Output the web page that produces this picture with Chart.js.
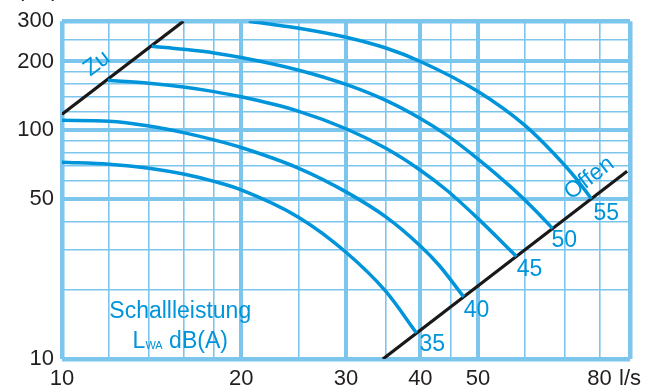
<!DOCTYPE html>
<html>
<head>
<meta charset="utf-8">
<script src="https://cdn.jsdelivr.net/npm/chart.js@4.4.1/dist/chart.umd.min.js"></script>
<style>
  html, body { margin: 0; padding: 0; background: #fff; overflow: hidden; }
</style>
</head>
<body>
<canvas id="c" width="662" height="390"></canvas>
<script>
// Volume flow (l/s) and static pressure (Pa) along each sound power curve L_WA
const q35 = [10, 12, 14, 16, 18, 20, 25, 30, 35, 39.4];
const p35 = [72.5, 71.1, 68.3, 64.4, 59.8, 54.9, 41.6, 29.3, 19.75, 13.0];
const q40 = [10, 12, 14, 16, 18, 20, 25, 30, 35, 40, 43, 47.3];
const p40 = [110.6, 109.6, 104.4, 97.7, 90.8, 84.1, 68.2, 53.8, 41.8, 31.2, 25.7, 18.7];
const q45 = [11.95, 14, 16, 18, 20, 25, 30, 35, 40, 44.3, 50, 58];
const p45 = [165.4, 160.6, 154.6, 147.6, 140.1, 121.1, 101.6, 83.4, 66.9, 54.7, 41.1, 28.1];
const q50 = [14.15, 16, 18, 20, 25, 30, 35, 40, 44.3, 50, 57, 62.6, 66.7];
const p50 = [233, 226, 218, 208.1, 183.2, 158.8, 135.2, 112.7, 95.3, 74.9, 56, 44.3, 37.2];
const q55 = [20.6, 25, 30, 35, 40, 50, 60, 66.7, 73, 77.5];
const p55 = [300, 279.5, 255.3, 229, 200, 147.7, 104.8, 80.2, 61.7, 50.2];

// Damper limits: fully closed ("Zu") and fully open ("Offen")
const qZu = [10, 16];
const pZu = [117.5, 300];
const qOffen = [34.6, 89];
const pOffen = [10, 66.2];

// Curve names and where they are written
const levelNames = ['35', '40', '45', '50', '55'];
const levelLabelQ = [41.9, 49.7, 61.0, 69.8, 82.1];
const levelLabelP = [11.6, 16.2, 24.7, 32.8, 43.4];

// Grid and tick values
const xGrid = [10, 12, 14, 16, 18, 20, 25, 30, 35, 40, 45, 50, 60, 70, 80, 90];
const xMajor = [20, 30, 40, 50];
const xEdge = [10, 90];
const xTickValues = [10, 20, 30, 40, 50, 80, 90];
const xTickText = ['10', '20', '30', '40', '50', '80', 'l/s'];
const yGrid = [10, 20, 30, 40, 50, 60, 70, 80, 90, 100, 120, 140, 160, 180, 200, 250, 300];
const yMajor = [50, 100, 200];
const yEdge = [10, 300];
const yTickValues = [10, 50, 100, 200, 300];
const yTickText = ['10', '50', '100', '200', '300'];

const GRID = '#7cc5ed';
const CURVE = '#0095da';
const LINE = '#1b1918';
const TEXT = '#231f20';
const FONT = "'Liberation Sans', Arial, sans-serif";

const has = (arr, v) => arr.some(a => Math.abs(a - v) < 1e-6);
const pts = (qs, ps) => qs.map((q, i) => ({ x: q, y: ps[i] }));

function gridWidth(edge, major) {
  return ctx => {
    const v = ctx.tick ? ctx.tick.value : NaN;
    if (has(edge, v)) return 4.5;
    if (has(major, v)) return 4;
    return 1.6;
  };
}

const curveSets = [[q35, p35], [q40, p40], [q45, p45], [q50, p50], [q55, p55]].map(([q, p], i) => ({
  label: 'L_WA ' + levelNames[i],
  data: pts(q, p),
  borderColor: CURVE,
  borderWidth: 3.5,
  pointRadius: 0,
  cubicInterpolationMode: 'monotone',
  fill: false
}));

const limitSets = [[qZu, pZu, 'Zu'], [qOffen, pOffen, 'Offen']].map(([q, p, name]) => ({
  label: name,
  data: pts(q, p),
  borderColor: LINE,
  borderWidth: 3.2,
  pointRadius: 0,
  tension: 0,
  fill: false
}));

// Text drawn in data space: curve names, damper names, legend note, axis title
const annotations = {
  id: 'annotations',
  afterDatasetsDraw(chart) {
    const { ctx, scales: { x, y } } = chart;
    const BIG = '23px ' + FONT;
    ctx.save();
    ctx.fillStyle = CURVE;
    ctx.font = BIG;
    ctx.textAlign = 'center';
    ctx.textBaseline = 'middle';
    levelNames.forEach((t, i) => {
      ctx.fillText(t, x.getPixelForValue(levelLabelQ[i]), y.getPixelForValue(levelLabelP[i]));
    });

    // slope of the damper lines on screen
    const ang = Math.atan2(
      y.getPixelForValue(pZu[1]) - y.getPixelForValue(pZu[0]),
      x.getPixelForValue(qZu[1]) - x.getPixelForValue(qZu[0]));
    const rotText = (t, q, p) => {
      ctx.save();
      ctx.translate(x.getPixelForValue(q), y.getPixelForValue(p));
      ctx.rotate(ang);
      ctx.fillText(t, 0, 0);
      ctx.restore();
    };
    rotText('Zu', 11.45, 196);
    rotText('Offen', 76.9, 61.7);

    // Schallleistung L_WA dB(A)
    const cx = x.getPixelForValue(15.8);
    ctx.textBaseline = 'alphabetic';
    ctx.fillText('Schallleistung', cx, y.getPixelForValue(15.1));
    const by = y.getPixelForValue(11.17);
    ctx.font = BIG;
    const wL = ctx.measureText('L').width;
    const wRest = ctx.measureText(' dB(A)').width;
    ctx.font = '11px ' + FONT;
    const wSub = ctx.measureText('WA').width;
    const sx = cx - (wL + wSub + wRest) / 2;
    ctx.textAlign = 'left';
    ctx.font = BIG;
    ctx.fillText('L', sx, by);
    ctx.font = '11px ' + FONT;
    ctx.fillText('WA', sx + wL, by + 1);
    ctx.font = BIG;
    ctx.fillText(' dB(A)', sx + wL + wSub, by);

    // y-axis title along the top edge
    ctx.fillStyle = TEXT;
    ctx.font = '22px ' + FONT;
    ctx.fillText('\u0394p', -27, -4);
    ctx.font = '12px ' + FONT;
    ctx.fillText('s', 0, 0);
    ctx.font = '22px ' + FONT;
    ctx.fillText('(Pa)', 17, -4);
    ctx.restore();
  }
};

new Chart(document.getElementById('c'), {
  type: 'line',
  data: { datasets: [...curveSets, ...limitSets] },
  options: {
    responsive: false,
    devicePixelRatio: 1,
    animation: false,
    layout: { padding: { top: 19, right: 32, bottom: 0, left: 0 } },
    plugins: { legend: { display: false }, tooltip: { enabled: false } },
    scales: {
      x: {
        type: 'logarithmic',
        min: 10,
        max: 90,
        afterBuildTicks: s => { s.ticks = xGrid.map(v => ({ value: v })); },
        afterFit: s => { s.height = 31; },
        grid: { color: GRID, lineWidth: gridWidth(xEdge, xMajor), drawTicks: false },
        border: { display: false },
        ticks: {
          autoSkip: false,
          maxRotation: 0,
          padding: 7,
          color: TEXT,
          font: { family: FONT, size: 22 },
          callback: v => {
            const i = xTickValues.findIndex(t => Math.abs(t - v) < 1e-6);
            return i >= 0 ? xTickText[i] : '';
          }
        }
      },
      y: {
        type: 'logarithmic',
        min: 10,
        max: 300,
        afterBuildTicks: s => { s.ticks = yGrid.map(v => ({ value: v })); },
        afterFit: s => { s.width = 62; },
        grid: { color: GRID, lineWidth: gridWidth(yEdge, yMajor), drawTicks: false },
        border: { display: false },
        ticks: {
          autoSkip: false,
          padding: 8,
          color: TEXT,
          font: { family: FONT, size: 22 },
          callback: v => {
            const i = yTickValues.findIndex(t => Math.abs(t - v) < 1e-6);
            return i >= 0 ? yTickText[i] : '';
          }
        }
      }
    }
  },
  plugins: [annotations]
});
</script>
</body>
</html>
